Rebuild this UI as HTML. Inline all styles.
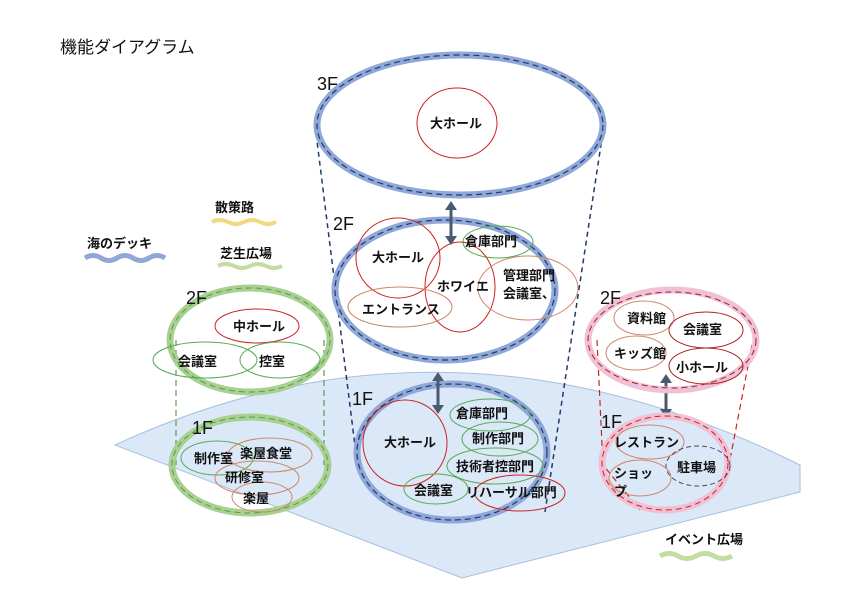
<!DOCTYPE html>
<html><head><meta charset="utf-8"><style>
body{margin:0;background:#fff}
svg text{font-family:"Liberation Sans","Noto Sans CJK JP",sans-serif;fill:#111}
.b{font-weight:bold;font-size:13px}
.f{font-size:18px}
</style></head><body>
<svg width="841" height="595" viewBox="0 0 841 595" xmlns="http://www.w3.org/2000/svg">
<path d="M115,445 Q450,290 800,465 L800,492 L462,578 Z" fill="#dbe8f8" stroke="#a9bfdc" stroke-width="1"/>
<text x="60" y="53" style="font-size:17px">機能ダイアグラム</text>
<text x="215" y="212" class="b">散策路</text>
<path d="M212,222 q8,-4 16,0 t16,0 t16,0 t16,0" stroke="#f2d880" stroke-width="4" fill="none"/>
<text x="87" y="248" class="b">海のデッキ</text>
<path d="M85,258 q8,-5 16,0 t16,0 t16,0 t16,0 t16,0" stroke="#8fa8d8" stroke-width="5" fill="none"/>
<text x="220" y="258" class="b">芝生広場</text>
<path d="M218,266 q8,-4 16,0 t16,0 t16,0 t16,0" stroke="#c2dda0" stroke-width="4" fill="none"/>
<text x="665" y="544" class="b">イベント広場</text>
<path d="M660,556 q9,-5 18,0 t18,0 t18,0 t18,0" stroke="#c2dda0" stroke-width="5" fill="none"/>
<g fill="none">
<path d="M315,125 L358,470 M604,125 L545,512" stroke="#223a6a" stroke-width="1.5" stroke-dasharray="5,4"/>
<ellipse cx="460" cy="125" rx="143" ry="70" stroke="#8fa8d8" stroke-width="7"/>
<ellipse cx="460" cy="125" rx="143" ry="70" stroke="#223a6a" stroke-width="1.2" stroke-dasharray="6,4"/>
<ellipse cx="445" cy="290" rx="110" ry="70" stroke="#8fa8d8" stroke-width="7"/>
<ellipse cx="445" cy="290" rx="110" ry="70" stroke="#223a6a" stroke-width="1.2" stroke-dasharray="6,4"/>
<ellipse cx="452" cy="452" rx="95" ry="68" stroke="#8fa8d8" stroke-width="7"/>
<ellipse cx="452" cy="452" rx="95" ry="68" stroke="#223a6a" stroke-width="1.2" stroke-dasharray="6,4"/>
<ellipse cx="457" cy="123" rx="40" ry="35" stroke="#c22" stroke-width="1"/>
<ellipse cx="398" cy="258" rx="42" ry="40" stroke="#c22" stroke-width="1"/>
<ellipse cx="498" cy="242" rx="35" ry="16" stroke="#5a5" stroke-width="1"/>
<ellipse cx="460" cy="287" rx="35" ry="45" stroke="#c22" stroke-width="1"/>
<ellipse cx="528" cy="288" rx="50" ry="32" stroke="#c86" stroke-width="1"/>
<ellipse cx="400" cy="307" rx="52" ry="20" stroke="#c86" stroke-width="1"/>
<ellipse cx="405" cy="443" rx="42" ry="43" stroke="#c22" stroke-width="1"/>
<ellipse cx="490" cy="415" rx="40" ry="16" stroke="#5a5" stroke-width="1"/>
<ellipse cx="500" cy="439" rx="38" ry="17" stroke="#5a5" stroke-width="1"/>
<ellipse cx="495" cy="466" rx="48" ry="18" stroke="#5a5" stroke-width="1"/>
<ellipse cx="436" cy="489" rx="32" ry="15" stroke="#5a5" stroke-width="1"/>
<ellipse cx="520" cy="493" rx="45" ry="18" stroke="#c22" stroke-width="1"/>
</g>
<g stroke="#4a5a70" stroke-width="3" fill="#4a5a70">
<line x1="451" y1="210" x2="451" y2="236"/><path d="M445,210 L451,201 L457,210 Z M445,236 L451,245 L457,236Z" stroke="none"/>
<line x1="438" y1="380" x2="438" y2="405"/><path d="M432,381 L438,372 L444,381 Z M432,405 L438,414 L444,405Z" stroke="none"/>
<line x1="666" y1="382" x2="666" y2="410"/><path d="M660,383 L666,374 L672,383 Z M660,409 L666,418 L672,409Z" stroke="none"/>
</g>
<text x="317" y="90" class="f">3F</text>
<text x="333" y="230" class="f">2F</text>
<text x="352" y="405" class="f">1F</text>
<text x="430" y="128" class="b">大ホール</text>
<text x="372" y="262" class="b">大ホール</text>
<text x="465" y="246" class="b">倉庫部門</text>
<text x="437" y="291" class="b">ホワイエ</text>
<text x="503" y="280" class="b">管理部門</text>
<text x="503" y="298" class="b">会議室、</text>
<text x="362" y="314" class="b">エントランス</text>
<text x="384" y="447" class="b">大ホール</text>
<text x="456" y="418" class="b">倉庫部門</text>
<text x="472" y="443" class="b">制作部門</text>
<text x="456" y="471" class="b">技術者控部門</text>
<text x="414" y="495" class="b">会議室</text>
<text x="466" y="497" class="b">リハーサル部門</text>
<g fill="none">
<path d="M176,340 L176,465 M324,340 L324,465" stroke="#5a9a50" stroke-width="1.2" stroke-dasharray="6,4"/>
<ellipse cx="250" cy="340" rx="80" ry="52" stroke="#a8d090" stroke-width="7"/>
<ellipse cx="250" cy="340" rx="80" ry="52" stroke="#5a9a50" stroke-width="1" stroke-dasharray="6,4"/>
<ellipse cx="250" cy="465" rx="78" ry="48" stroke="#a8d090" stroke-width="7"/>
<ellipse cx="250" cy="465" rx="78" ry="48" stroke="#5a9a50" stroke-width="1" stroke-dasharray="6,4"/>
<ellipse cx="257" cy="326" rx="42" ry="17" stroke="#c22" stroke-width="1"/>
<ellipse cx="205" cy="360" rx="52" ry="18" stroke="#5a5" stroke-width="1"/>
<ellipse cx="280" cy="360" rx="40" ry="18" stroke="#5a5" stroke-width="1"/>
<ellipse cx="217" cy="458" rx="36" ry="17" stroke="#5a5" stroke-width="1"/>
<ellipse cx="270" cy="455" rx="42" ry="17" stroke="#c86" stroke-width="1"/>
<ellipse cx="257" cy="478" rx="42" ry="17" stroke="#c86" stroke-width="1"/>
<ellipse cx="262" cy="497" rx="30" ry="15" stroke="#c86" stroke-width="1"/>
</g>
<text x="186" y="304" class="f">2F</text>
<text x="192" y="434" class="f">1F</text>
<text x="233" y="331" class="b">中ホール</text>
<text x="178" y="366" class="b">会議室</text>
<text x="259" y="366" class="b">控室</text>
<text x="194" y="463" class="b">制作室</text>
<text x="240" y="458" class="b">楽屋食堂</text>
<text x="225" y="482" class="b">研修室</text>
<text x="243" y="503" class="b">楽屋</text>
<g fill="none">
<path d="M597,340 L603,465 L640,510 M752,345 L728,470" stroke="#c22" stroke-width="1.2" stroke-dasharray="6,4"/>
<ellipse cx="672" cy="340" rx="84" ry="50" stroke="#f0c0d4" stroke-width="7"/>
<ellipse cx="672" cy="340" rx="84" ry="48" stroke="#a02030" stroke-width="1" stroke-dasharray="6,4"/>
<ellipse cx="665" cy="463" rx="63" ry="47" stroke="#f0c0d4" stroke-width="7"/>
<ellipse cx="665" cy="463" rx="63" ry="47" stroke="#c22" stroke-width="1" stroke-dasharray="6,4"/>
<ellipse cx="644" cy="318" rx="30" ry="17" stroke="#c86" stroke-width="1"/>
<ellipse cx="706" cy="330" rx="37" ry="18" stroke="#a22" stroke-width="1"/>
<ellipse cx="636" cy="353" rx="30" ry="17" stroke="#c86" stroke-width="1"/>
<ellipse cx="706" cy="366" rx="37" ry="18" stroke="#a22" stroke-width="1"/>
<ellipse cx="650" cy="442" rx="34" ry="17" stroke="#c86" stroke-width="1"/>
<ellipse cx="698" cy="466" rx="32" ry="20" stroke="#546" stroke-width="1" stroke-dasharray="5,3"/>
<ellipse cx="640" cy="478" rx="31" ry="18" stroke="#c86" stroke-width="1"/>
</g>
<text x="600" y="304" class="f">2F</text>
<text x="601" y="428" class="f">1F</text>
<text x="627" y="323" class="b">資料館</text>
<text x="683" y="334" class="b">会議室</text>
<text x="614" y="358" class="b">キッズ館</text>
<text x="676" y="372" class="b">小ホール</text>
<text x="614" y="447" class="b">レストラン</text>
<text x="677" y="472" class="b">駐車場</text>
<text x="614" y="478" class="b">ショッ</text>
<text x="614" y="496" class="b">プ</text>
</svg>
</body></html>
